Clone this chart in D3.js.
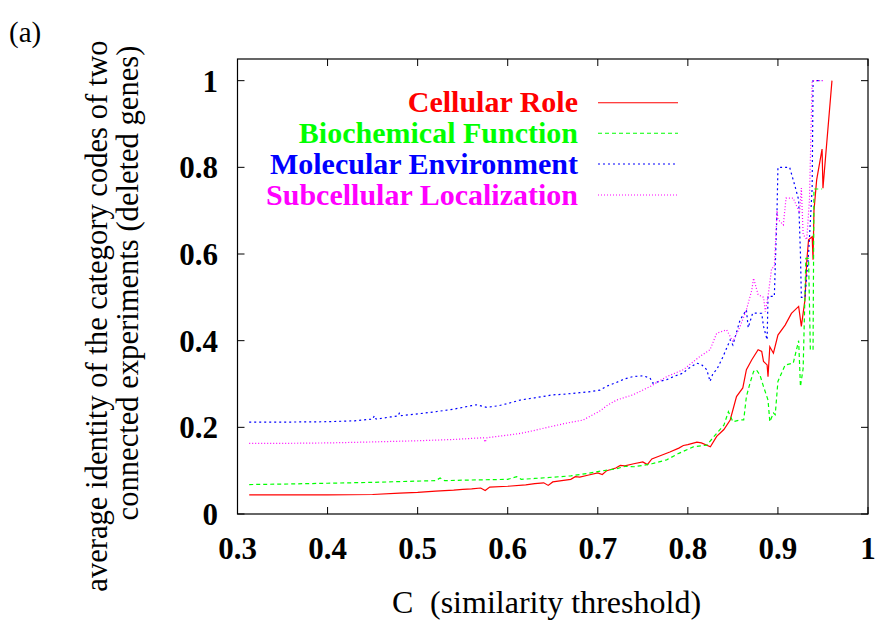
<!DOCTYPE html>
<html><head><meta charset="utf-8">
<script src="https://cdn.jsdelivr.net/npm/d3@7"></script>
<style>
html,body{margin:0;padding:0;background:#fff;}
svg{display:block;}
</style></head>
<body>
<svg id="chart" width="877" height="624"></svg>
<script>
// ---- data ----
const xTicks = [0.3, 0.4, 0.5, 0.6, 0.7, 0.8, 0.9, 1];
const xTickLabels = ["0.3", "0.4", "0.5", "0.6", "0.7", "0.8", "0.9", "1"];
const yTicks = [0, 0.2, 0.4, 0.6, 0.8, 1];
const yTickLabels = ["0", "0.2", "0.4", "0.6", "0.8", "1"];
const seriesNames = ["Cellular Role", "Biochemical Function", "Molecular Environment", "Subcellular Localization"];

const cellularRole = [[0.313,0.044],[0.35,0.044],[0.40,0.044],[0.45,0.045],[0.48,0.048],[0.50,0.050],[0.52,0.053],[0.54,0.055],[0.55,0.057],[0.56,0.058],[0.57,0.060],[0.575,0.054],[0.58,0.062],[0.60,0.064],[0.62,0.067],[0.63,0.070],[0.64,0.072],[0.645,0.066],[0.65,0.074],[0.66,0.077],[0.67,0.080],[0.675,0.086],[0.68,0.085],[0.69,0.090],[0.70,0.095],[0.705,0.091],[0.71,0.100],[0.72,0.106],[0.725,0.112],[0.73,0.111],[0.74,0.116],[0.75,0.120],[0.755,0.114],[0.76,0.127],[0.77,0.135],[0.78,0.143],[0.79,0.152],[0.795,0.158],[0.80,0.160],[0.81,0.166],[0.815,0.164],[0.825,0.155],[0.832,0.179],[0.84,0.195],[0.847,0.217],[0.854,0.271],[0.861,0.291],[0.865,0.333],[0.871,0.356],[0.878,0.379],[0.882,0.375],[0.884,0.352],[0.888,0.344],[0.889,0.317],[0.891,0.386],[0.895,0.371],[0.90,0.413],[0.908,0.436],[0.915,0.463],[0.923,0.479],[0.926,0.433],[0.930,0.494],[0.932,0.583],[0.934,0.633],[0.938,0.640],[0.939,0.587],[0.940,0.700],[0.943,0.771],[0.949,0.842],[0.950,0.752],[0.960,1.0]];

const biochemicalFunction = [[0.313,0.068],[0.35,0.069],[0.40,0.071],[0.45,0.073],[0.50,0.076],[0.52,0.077],[0.525,0.083],[0.53,0.077],[0.55,0.078],[0.60,0.080],[0.61,0.086],[0.615,0.080],[0.63,0.082],[0.65,0.085],[0.67,0.088],[0.69,0.094],[0.70,0.098],[0.72,0.104],[0.73,0.110],[0.74,0.109],[0.75,0.112],[0.76,0.116],[0.7765,0.125],[0.79,0.140],[0.806,0.155],[0.821,0.159],[0.832,0.186],[0.840,0.205],[0.845,0.236],[0.850,0.213],[0.858,0.217],[0.862,0.217],[0.865,0.271],[0.869,0.302],[0.873,0.329],[0.876,0.333],[0.880,0.321],[0.884,0.294],[0.889,0.263],[0.891,0.213],[0.895,0.233],[0.897,0.229],[0.900,0.306],[0.908,0.344],[0.917,0.348],[0.923,0.400],[0.925,0.294],[0.928,0.336],[0.931,0.590],[0.934,0.590],[0.936,0.379],[0.939,0.379],[0.940,0.750],[0.949,0.750]];

const molecularEnvironment = [[0.313,0.212],[0.35,0.212],[0.40,0.213],[0.43,0.215],[0.45,0.219],[0.452,0.227],[0.454,0.219],[0.47,0.224],[0.478,0.226],[0.480,0.234],[0.482,0.227],[0.50,0.231],[0.52,0.236],[0.54,0.242],[0.56,0.250],[0.565,0.252],[0.577,0.246],[0.59,0.250],[0.60,0.255],[0.614,0.263],[0.63,0.268],[0.65,0.275],[0.66,0.276],[0.67,0.278],[0.68,0.280],[0.69,0.282],[0.7026,0.286],[0.71,0.295],[0.72,0.303],[0.73,0.312],[0.739,0.317],[0.75,0.319],[0.758,0.314],[0.761,0.302],[0.77,0.307],[0.7765,0.310],[0.785,0.318],[0.7946,0.325],[0.80,0.335],[0.81,0.348],[0.815,0.345],[0.821,0.333],[0.8246,0.306],[0.828,0.325],[0.832,0.333],[0.839,0.363],[0.847,0.402],[0.850,0.390],[0.858,0.448],[0.865,0.471],[0.867,0.430],[0.872,0.464],[0.882,0.463],[0.884,0.433],[0.888,0.402],[0.889,0.502],[0.896,0.502],[0.899,0.700],[0.900,0.800],[0.913,0.800],[0.919,0.756],[0.923,0.725],[0.925,0.600],[0.926,0.500],[0.930,0.500],[0.934,0.600],[0.938,0.752],[0.939,1.0],[0.949,1.0]];

const subcellularLocalization = [[0.313,0.163],[0.35,0.163],[0.40,0.164],[0.444,0.166],[0.50,0.169],[0.54,0.172],[0.573,0.176],[0.575,0.166],[0.577,0.176],[0.60,0.182],[0.614,0.186],[0.63,0.193],[0.644,0.200],[0.666,0.210],[0.684,0.217],[0.69,0.224],[0.7026,0.238],[0.71,0.250],[0.721,0.263],[0.739,0.275],[0.758,0.294],[0.7765,0.317],[0.795,0.333],[0.813,0.363],[0.8246,0.379],[0.832,0.417],[0.843,0.425],[0.850,0.398],[0.858,0.433],[0.865,0.471],[0.871,0.517],[0.873,0.544],[0.878,0.506],[0.884,0.500],[0.886,0.467],[0.889,0.502],[0.893,0.567],[0.896,0.570],[0.899,0.700],[0.900,0.680],[0.906,0.667],[0.909,0.729],[0.917,0.729],[0.924,0.695],[0.926,0.752],[0.928,0.645],[0.932,0.633],[0.935,0.725],[0.938,1.0],[0.950,1.0]];

const seriesData = [cellularRole, biochemicalFunction, molecularEnvironment, subcellularLocalization];
const seriesColors = ["#ff0000", "#00ff00", "#0000ff", "#ff00ff"];
const seriesDash = [null, "4,3", "2,3", "1,2"];

// ---- layout ----
const L = 237.5, R = 868, T = 59, B = 514;
const svg = d3.select("#chart");
const x = d3.scaleLinear().domain([0.3, 1]).range([L, R]);
const y = d3.scaleLinear().domain([0, 1.05]).range([B, T]);
const serif = "'Liberation Serif','Times New Roman',serif";

// ticks (inward, mirrored)
const tickLen = 7;
const axG = svg.append("g").attr("stroke", "#000").attr("stroke-width", 1);
xTicks.forEach(t => {
  axG.append("line").attr("x1", x(t)).attr("x2", x(t)).attr("y1", B).attr("y2", B - tickLen);
  axG.append("line").attr("x1", x(t)).attr("x2", x(t)).attr("y1", T).attr("y2", T + tickLen);
});
yTicks.forEach(t => {
  axG.append("line").attr("x1", L).attr("x2", L + tickLen).attr("y1", y(t)).attr("y2", y(t));
  axG.append("line").attr("x1", R).attr("x2", R - tickLen).attr("y1", y(t)).attr("y2", y(t));
});

// tick labels
svg.append("g").selectAll("text").data(xTicks).join("text")
  .attr("x", d => x(d)).attr("y", 559)
  .attr("text-anchor", "middle")
  .attr("font-family", serif).attr("font-weight", "bold").attr("font-size", 31)
  .text((d, i) => xTickLabels[i]);
svg.append("g").selectAll("text").data(yTicks).join("text")
  .attr("x", 218).attr("y", d => y(d) + 11)
  .attr("text-anchor", "end")
  .attr("font-family", serif).attr("font-weight", "bold").attr("font-size", 31)
  .text((d, i) => yTickLabels[i]);

// series
const line = d3.line().x(d => x(d[0])).y(d => y(d[1]));
seriesData.forEach((s, i) => {
  svg.append("path").datum(s)
    .attr("d", line)
    .attr("fill", "none")
    .attr("stroke", seriesColors[i])
    .attr("stroke-width", 1.2)
    .attr("stroke-dasharray", seriesDash[i]);
});

// legend
const legendY = [102.7, 133.3, 164, 195];
seriesNames.forEach((n, i) => {
  svg.append("text").attr("x", 578).attr("y", legendY[i] + 9.6)
    .attr("text-anchor", "end")
    .attr("font-family", serif).attr("font-weight", "bold").attr("font-size", 30)
    .attr("fill", seriesColors[i]).text(n);
  svg.append("line").attr("x1", 598).attr("x2", 678)
    .attr("y1", legendY[i]).attr("y2", legendY[i])
    .attr("stroke", seriesColors[i]).attr("stroke-width", 1.1)
    .attr("stroke-dasharray", seriesDash[i]);
});

// border
svg.append("rect").attr("x", L).attr("y", T).attr("width", R - L).attr("height", B - T)
  .attr("fill", "none").attr("stroke", "#000").attr("stroke-width", 1.2);

// axis labels
svg.append("text").attr("x", 392).attr("y", 613)
  .attr("font-family", serif).attr("font-size", 32).text("C");
svg.append("text").attr("x", 430).attr("y", 613)
  .attr("font-family", serif).attr("font-size", 32).text("(similarity threshold)");

svg.append("text").attr("transform", "translate(107,316) rotate(-90)")
  .attr("text-anchor", "middle")
  .attr("font-family", serif).attr("font-size", 30.6)
  .text("average identity of the category codes of two");
svg.append("text").attr("transform", "translate(138,283) rotate(-90)")
  .attr("text-anchor", "middle")
  .attr("font-family", serif).attr("font-size", 30.6)
  .text("connected experiments (deleted genes)");

svg.append("text").attr("x", 9).attr("y", 42)
  .attr("font-family", serif).attr("font-size", 29).text("(a)");
</script>
</body></html>
